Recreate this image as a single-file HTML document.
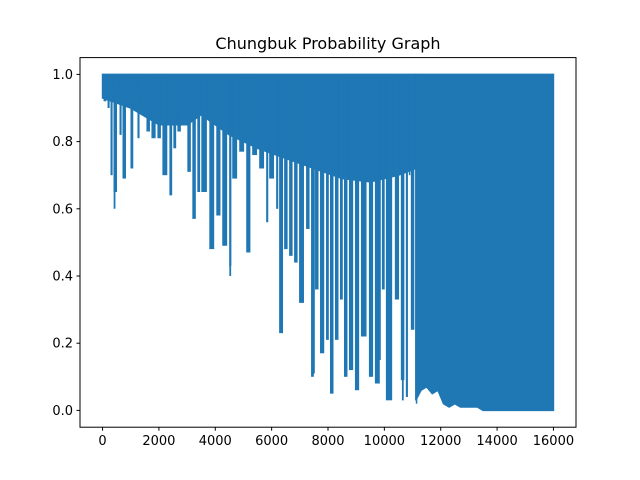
<!DOCTYPE html>
<html><head><meta charset="utf-8"><style>
body{margin:0;background:#fff;}
svg{display:block;font-family:"DejaVu Sans","Liberation Sans",sans-serif;}
</style></head><body>
<svg id="chart" width="640" height="480" viewBox="0 0 640 480">
<rect width="640" height="480" fill="#fff"/>
<text x="328" y="49" font-size="16" text-anchor="middle" fill="#000">Chungbuk Probability Graph</text>
<g id="plot"></g>
<g id="xaxis"></g>
<g id="yaxis"></g>
<rect x="80" y="57.6" width="496" height="369.6" fill="none" stroke="#000" stroke-width="1"/>
</svg>
<script>
const binX=[0,35,177,283,389,566,602,708,885,991,1133,1239,1345,1558,1735,1947,2124,2372,2513,2655,2832,3009,3186,3363,3505,3788,4036,4248,4496,4602,4850,5098,5310,5558,5806,5912,6160,6266,6443,6620,6797,6974,7222,7399,7540,7717,7930,8071,8248,8425,8567,8744,8956,9169,9452,9664,9912,10054,10372,10585,10762,10868,10939,11116];
const binMin=[0.94,0.92,0.90,0.70,0.65,0.97,0.82,0.69,0.91,0.72,0.95,0.81,0.90,0.83,0.81,0.81,0.70,0.64,0.78,0.83,0.90,0.71,0.57,0.65,0.65,0.48,0.58,0.49,0.43,0.69,0.77,0.47,0.76,0.72,0.56,0.69,0.60,0.23,0.48,0.46,0.44,0.32,0.54,0.10,0.36,0.17,0.21,0.05,0.21,0.33,0.10,0.12,0.06,0.22,0.10,0.08,0.36,0.03,0.33,0.09,0.04,0.70,0.24,0.02];
const solidX=[0,1000,2000,3000,3500,4500,5500,6500,7500,8500,9500,10500,11116];
const solidMin=[0.93,0.90,0.85,0.85,0.88,0.82,0.78,0.75,0.72,0.69,0.68,0.70,0.72];
const denseX=[11116,11300,11500,11700,11900,12100,12300,12500,12700,12900,13100,13300,13500,13800,14200,14600,15000,15500,16000];
const denseMin=[0.03,0.06,0.07,0.05,0.06,0.02,0.01,0.02,0.01,0.01,0.01,0.01,0.0,0.0,0.0,0.0,0.0,0.0,0.0];
const spikeX=[425,4531,6372,7500,8142,9841,10655];
const spikeMin=[0.60,0.40,0.23,0.11,0.05,0.15,0.03];
const xTicks=[0,2000,4000,6000,8000,10000,12000,14000,16000];
const yTicks=[0.0,0.2,0.4,0.6,0.8,1.0];
const NS="http://www.w3.org/2000/svg";
const sx=v=>80+(v+800)*496/17600;
const sy=v=>427.2-(v+0.05)*369.6/1.1;
const plot=document.getElementById('plot');
const C="#1f77b4";
let p='M'+sx(solidX[0])+','+sy(1)+' L'+sx(solidX[solidX.length-1])+','+sy(1);
for(let i=solidX.length-1;i>=0;i--)p+=' L'+sx(solidX[i])+','+sy(solidMin[i]);
p+=' Z';
const solid=document.createElementNS(NS,'path');


solid.setAttribute('d',p);solid.setAttribute('fill',C);solid.setAttribute('stroke',C);solid.setAttribute('stroke-width','1.5');
plot.appendChild(solid);
for(let i=0;i<binX.length;i++){
  const xr=i+1<binX.length?binX[i+1]:denseX[0];
  const x0=sx(binX[i]),x1=sx(xr);
  const r=document.createElementNS(NS,'rect');
  
  
  r.setAttribute('x',x0);r.setAttribute('y',sy(1));
  r.setAttribute('width',Math.max(1.5,(x1-x0)*0.7));r.setAttribute('height',sy(binMin[i])-sy(1));
  r.setAttribute('fill',C);
  plot.appendChild(r);
}
let q='M'+sx(denseX[0])+','+sy(1)+' L'+sx(denseX[denseX.length-1])+','+sy(1);
for(let i=denseX.length-1;i>=0;i--)q+=' L'+sx(denseX[i])+','+sy(denseMin[i]);
q+=' Z';
const dense=document.createElementNS(NS,'path');


dense.setAttribute('d',q);dense.setAttribute('fill',C);dense.setAttribute('stroke',C);dense.setAttribute('stroke-width','1.5');
plot.appendChild(dense);
for(let i=0;i<spikeX.length;i++){
  const ln=document.createElementNS(NS,'line');
  
  
  ln.setAttribute('x1',sx(spikeX[i]));ln.setAttribute('x2',sx(spikeX[i]));
  ln.setAttribute('y1',sy(1));ln.setAttribute('y2',sy(spikeMin[i]));
  ln.setAttribute('stroke',C);ln.setAttribute('stroke-width','1.8');
  plot.appendChild(ln);
}
const xa=document.getElementById('xaxis');
xTicks.forEach(t=>{
  const tk=document.createElementNS(NS,'line');
  
  
  tk.setAttribute('x1',sx(t));tk.setAttribute('x2',sx(t));tk.setAttribute('y1',427.2);tk.setAttribute('y2',430.7);tk.setAttribute('stroke','#000');
  xa.appendChild(tk);
  const tx=document.createElementNS(NS,'text');
  
  
  tx.setAttribute('x',sx(t));tx.setAttribute('y',445);tx.setAttribute('font-size','13');tx.setAttribute('text-anchor','middle');
  tx.textContent=t;xa.appendChild(tx);
});
const ya=document.getElementById('yaxis');
yTicks.forEach(t=>{
  const tk=document.createElementNS(NS,'line');
  
  
  tk.setAttribute('x1',76.5);tk.setAttribute('x2',80);tk.setAttribute('y1',sy(t));tk.setAttribute('y2',sy(t));tk.setAttribute('stroke','#000');
  ya.appendChild(tk);
  const tx=document.createElementNS(NS,'text');
  
  
  tx.setAttribute('x',73);tx.setAttribute('y',sy(t)+4.5);tx.setAttribute('font-size','13');tx.setAttribute('text-anchor','end');
  tx.textContent=t.toFixed(1);ya.appendChild(tx);
});
</script>
</body></html>
